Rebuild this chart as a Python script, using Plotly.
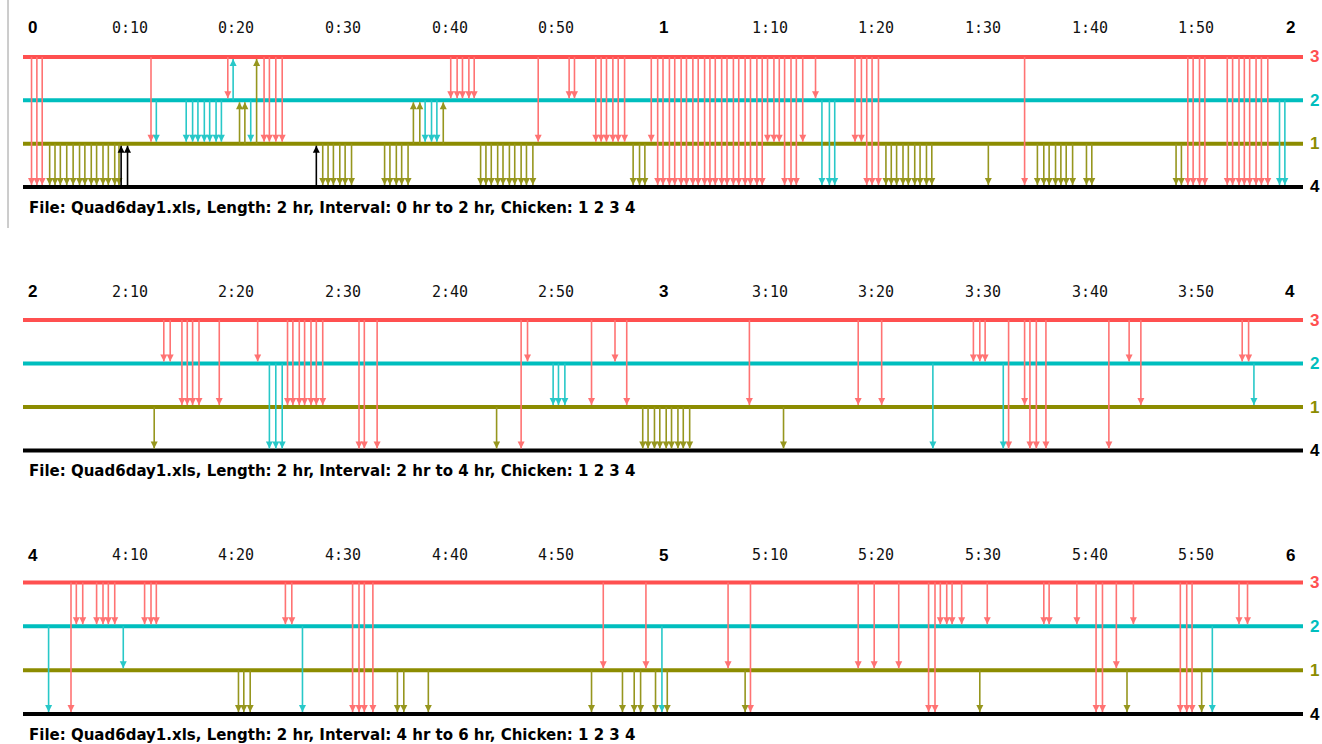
import plotly.graph_objects as go

W, H = 1322, 744

# ---------------- data ----------------
CAPTIONS = [
    "File: Quad6day1.xls, Length: 2 hr, Interval: 0 hr to 2 hr, Chicken: 1 2 3 4",
    "File: Quad6day1.xls, Length: 2 hr, Interval: 2 hr to 4 hr, Chicken: 1 2 3 4",
    "File: Quad6day1.xls, Length: 2 hr, Interval: 4 hr to 6 hr, Chicken: 1 2 3 4",
]
TICK_MIN = [0, 10, 20, 30, 40, 50, 60, 70, 80, 90, 100, 110, 120]
P1_LABELS = ["0", "0:10", "0:20", "0:30", "0:40", "0:50", "1", "1:10", "1:20", "1:30", "1:40", "1:50", "2"]
P2_LABELS = ["2", "2:10", "2:20", "2:30", "2:40", "2:50", "3", "3:10", "3:20", "3:30", "3:40", "3:50", "4"]
P3_LABELS = ["4", "4:10", "4:20", "4:30", "4:40", "4:50", "5", "5:10", "5:20", "5:30", "5:40", "5:50", "6"]
CHICKENS = [3, 2, 1, 4]          # lines from top to bottom

# event times (minutes into the 2-hour window), grouped by source -> target chicken
# ---- panel 1 (0-2 hr)
P1_3_4 = [0.8, 1.3, 1.8, 59.5, 60.0, 60.6, 61.1, 61.7, 62.2, 62.8, 63.3, 63.9, 64.4, 64.9, 65.5,
          66.0, 66.6, 67.1, 67.7, 68.2, 68.8, 69.3, 71.4, 72.0, 72.5, 79.1, 79.6, 80.2, 93.9,
          109.2, 109.7, 110.3, 110.8, 112.9, 113.4, 114.0, 114.5, 115.0, 115.6, 116.1, 116.7]
P1_3_2 = [19.2, 40.1, 40.7, 41.2, 41.8, 42.3, 51.2, 51.7, 74.3]
P1_3_1 = [12.0, 22.6, 23.1, 23.7, 24.3, 48.3, 53.7, 54.2, 54.7, 55.3, 55.8, 56.4, 58.9,
          69.8, 70.4, 70.9, 73.1, 78.0, 78.6]
P1_2_3 = [19.7]
P1_2_1 = [12.5, 15.3, 15.9, 16.4, 17.0, 17.5, 18.1, 18.6, 21.35, 37.7, 38.3, 38.8]
P1_2_4 = [74.9, 75.6, 76.1, 117.8, 118.3]
P1_1_3 = [21.9]
P1_1_2 = [20.3, 20.8, 36.6, 37.2, 39.4]
P1_1_4 = [2.5, 3.0, 3.5, 4.1, 4.7, 5.3, 5.8, 6.4, 6.9, 7.5, 8.0, 8.6, 9.0,
          28.1, 28.6, 29.1, 29.7, 30.2, 30.8, 33.9, 34.4, 35.0, 35.5, 36.1,
          42.9, 43.4, 43.9, 44.5, 45.0, 45.6, 46.1, 46.7, 47.2, 47.8, 57.2, 57.8, 58.3,
          80.9, 81.4, 81.9, 82.5, 83.0, 83.6, 84.1, 84.7, 85.2, 90.5,
          95.1, 95.7, 96.2, 96.8, 97.3, 97.8, 98.4, 99.7, 100.2, 108.1, 108.6]
P1_4_1 = [9.2, 9.8, 27.5]

# ---- panel 2 (2-4 hr)
P2_3_4 = [31.5, 32.0, 33.2, 46.7, 92.4, 94.4, 95.0, 95.9, 101.8]
P2_3_2 = [13.2, 13.8, 22.0, 47.3, 55.5, 89.1, 89.7, 90.2, 103.7, 114.3, 114.9]
P2_3_1 = [14.9, 15.4, 15.9, 16.5, 18.4, 24.8, 25.3, 25.9, 26.4, 27.0, 27.5, 28.1,
          53.3, 56.6, 68.1, 78.3, 80.5, 93.9, 104.8]
P2_2_4 = [23.1, 23.7, 24.3, 85.3, 91.9]
P2_2_1 = [49.7, 50.2, 50.8, 115.4]
P2_1_4 = [12.3, 44.4, 58.1, 58.6, 59.2, 59.7, 60.3, 60.8, 61.4, 61.9, 62.5, 71.3]

# ---- panel 3 (4-6 hr)
P3_3_4 = [4.5, 30.9, 31.5, 32.0, 32.8, 68.2, 84.9, 85.5, 100.6, 101.2, 108.5, 109.1, 109.6]
P3_3_2 = [5.0, 5.6, 6.9, 7.5, 8.0, 8.6, 11.4, 12.0, 12.5, 24.6, 25.2, 86.0, 86.6, 87.1, 88.0,
          90.4, 95.7, 96.2, 98.8, 104.1, 114.0, 114.8]
P3_3_1 = [54.4, 58.4, 66.1, 78.3, 79.8, 82.1, 102.5]
P3_2_4 = [2.4, 26.2, 59.9, 111.5]
P3_2_1 = [9.4]
P3_1_4 = [20.2, 20.7, 21.3, 35.1, 35.7, 38.0, 53.3, 56.2, 57.3, 57.9, 59.3, 60.4, 67.7,
          89.7, 103.5, 110.5]

PANELS = [
    dict(labels=P1_LABELS, caption=CAPTIONS[0],
         events=[(3, 4, P1_3_4), (3, 2, P1_3_2), (3, 1, P1_3_1), (2, 3, P1_2_3), (2, 1, P1_2_1),
                 (2, 4, P1_2_4), (1, 3, P1_1_3), (1, 2, P1_1_2), (1, 4, P1_1_4), (4, 1, P1_4_1)]),
    dict(labels=P2_LABELS, caption=CAPTIONS[1],
         events=[(3, 4, P2_3_4), (3, 2, P2_3_2), (3, 1, P2_3_1), (2, 4, P2_2_4), (2, 1, P2_2_1),
                 (1, 4, P2_1_4)]),
    dict(labels=P3_LABELS, caption=CAPTIONS[2],
         events=[(3, 4, P3_3_4), (3, 2, P3_3_2), (3, 1, P3_3_1), (2, 4, P3_2_4), (2, 1, P3_2_1),
                 (1, 4, P3_1_4)]),
]

# ---------------- style ----------------
LEVEL = {3: 3, 2: 2, 1: 1, 4: 0}
LINE_COL = {3: "rgb(255,80,80)", 2: "rgb(0,190,190)", 1: "rgb(140,140,0)", 4: "rgb(0,0,0)"}
ARROW_COL = {3: "rgb(255,115,115)", 2: "rgb(40,200,200)", 1: "rgb(150,150,30)", 4: "rgb(0,0,0)"}
LABEL_COL = {3: "rgb(255,80,80)", 2: "rgb(0,190,190)", 1: "rgb(140,140,0)", 4: "rgb(0,0,0)"}

X0_PX, X1_PX = 23, 1303
PANEL_PX = [(57, 187), (320, 450.5), (582.5, 714)]
LABEL_PX = [28, 291.5, 555]
CAPTION_PX = [208, 470.5, 735]
PAD = 0.3

fig = go.Figure()
annotations = []
layout_axes = {}

for i, panel in enumerate(PANELS):
    n = "" if i == 0 else str(i + 1)
    xa, ya = "x" + n, "y" + n
    top_px, bot_px = PANEL_PX[i]
    unit = (bot_px - top_px) / 3.0
    d0 = 1 - (bot_px + PAD * unit) / H
    d1 = 1 - (top_px - PAD * unit) / H
    layout_axes["xaxis" + n] = dict(domain=[X0_PX / W, X1_PX / W], range=[0, 120], visible=False,
                                     fixedrange=True, anchor=ya)
    layout_axes["yaxis" + n] = dict(domain=[d0, d1], range=[-PAD, 3 + PAD], visible=False,
                                     fixedrange=True, anchor=xa)
    off = 2.0 / unit  # ~2 px in data units

    # chicken lines
    for c in CHICKENS:
        fig.add_trace(go.Scatter(x=[0, 120], y=[LEVEL[c], LEVEL[c]], mode="lines",
                                 line=dict(color=LINE_COL[c], width=4),
                                 xaxis=xa, yaxis=ya, hoverinfo="skip"))
        annotations.append(dict(x=120, y=LEVEL[c], xref=xa, yref=ya, text="<b>%d</b>" % c,
                                showarrow=False, xanchor="left", yanchor="middle", xshift=5,
                                font=dict(family="Liberation Sans, Arial", size=17,
                                          color=LABEL_COL[c])))

    # arrows
    for src, dst, times in panel["events"]:
        ys, yd = LEVEL[src], LEVEL[dst]
        down = yd < ys
        tip = yd + off if down else yd - off
        sx, sy = [], []
        for t in times:
            sx += [t, t, None]
            sy += [ys, tip, None]
        fig.add_trace(go.Scatter(x=sx, y=sy, mode="lines",
                                 line=dict(color=ARROW_COL[src], width=1.6),
                                 xaxis=xa, yaxis=ya, hoverinfo="skip"))
        fig.add_trace(go.Scatter(x=list(times), y=[tip] * len(times), mode="markers",
                                 marker=dict(symbol="arrow-down" if down else "arrow-up",
                                             size=7, color=ARROW_COL[src],
                                             line=dict(width=0)),
                                 xaxis=xa, yaxis=ya, hoverinfo="skip"))

    # time labels
    ly = 1 - LABEL_PX[i] / H
    for k, (m, lab) in enumerate(zip(TICK_MIN, panel["labels"])):
        hour = ":" not in lab
        if k == 0:
            xanchor, xshift = "left", 3
        elif k == len(TICK_MIN) - 1:
            xanchor, xshift = "right", -6
        else:
            xanchor, xshift = "center", 0
        if hour:
            font = dict(family="Liberation Sans, Arial", size=17, color="black")
            text = "<b>%s</b>" % lab
        else:
            font = dict(family="DejaVu Sans Mono, monospace", size=15, color="#111")
            text = lab
        annotations.append(dict(x=m, y=ly, xref=xa, yref="paper", text=text, showarrow=False,
                                xanchor=xanchor, yanchor="middle", xshift=xshift, font=font))

    # caption
    annotations.append(dict(x=27 / W, y=1 - CAPTION_PX[i] / H, xref="paper", yref="paper",
                            text="<b>%s</b>" % panel["caption"], showarrow=False,
                            xanchor="left", yanchor="middle",
                            font=dict(family="DejaVu Sans, Verdana", size=15, color="black")))

fig.update_layout(width=W, height=H, margin=dict(l=0, r=0, t=0, b=0),
                  paper_bgcolor="white", plot_bgcolor="white", showlegend=False,
                  annotations=annotations,
                  shapes=[dict(type="line", xref="paper", yref="paper",
                               x0=8 / W, x1=8 / W, y0=1, y1=1 - 228 / H,
                               line=dict(color="#9a9a9a", width=1))],
                  **layout_axes)

fig.write_html("out.html", config={"displayModeBar": False},
               post_script="document.body.style.margin='0px';")
